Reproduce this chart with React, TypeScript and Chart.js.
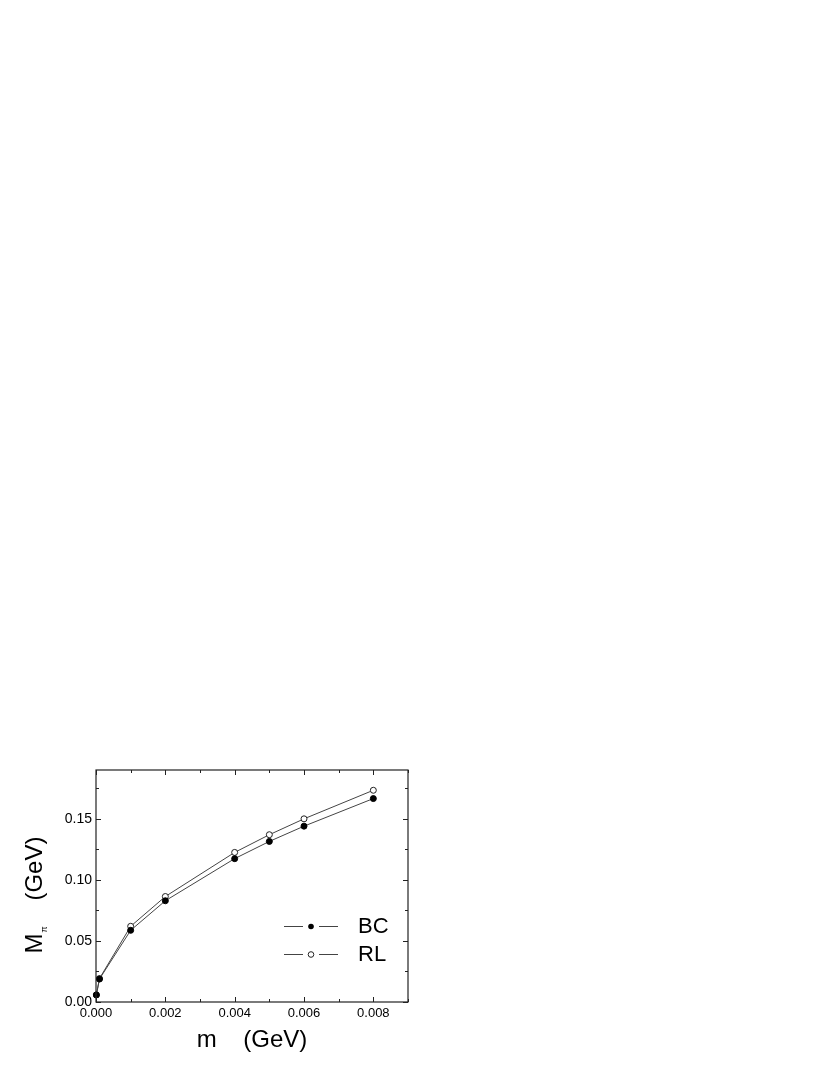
import React, { useEffect, useRef } from "react";
import { Chart, registerables } from "chart.js";

Chart.register(...registerables);

const mValues = [0.00001, 0.0001, 0.001, 0.002, 0.004, 0.005, 0.006, 0.008];
const bcValues = [0.0058, 0.0188, 0.0587, 0.0829, 0.1174, 0.1315, 0.144, 0.1666];
const rlValues = [0.0058, 0.0192, 0.062, 0.0864, 0.1225, 0.137, 0.15, 0.1734];
const seriesNames = ["BC", "RL"];
const xTickStep = 0.002;
const yTickStep = 0.05;
const xMax = 0.009;
const yMax = 0.19;

const FONT = "'Liberation Sans', Arial, sans-serif";

const framePlugin = {
  id: "framePlugin",
  afterDraw(chart: any) {
    const ctx = chart.ctx;
    const { left, right, top, bottom } = chart.chartArea;
    const xs = chart.scales.x;
    const ys = chart.scales.y;
    ctx.save();
    ctx.strokeStyle = "#222";
    ctx.lineWidth = 1.2;
    ctx.strokeRect(left, top, right - left, bottom - top);
    ctx.lineWidth = 1;
    for (let i = 0; i <= 9; i++) {
      const v = i * 0.001;
      const px = Math.round(xs.getPixelForValue(v)) + 0.5;
      const len = i % 2 === 0 ? 5 : 3;
      ctx.beginPath();
      ctx.moveTo(px, bottom);
      ctx.lineTo(px, bottom - len);
      ctx.moveTo(px, top);
      ctx.lineTo(px, top + len);
      ctx.stroke();
    }
    for (let i = 0; i <= 7; i++) {
      const v = i * 0.025;
      const py = Math.round(ys.getPixelForValue(v)) + 0.5;
      const len = i % 2 === 0 ? 5 : 3;
      ctx.beginPath();
      ctx.moveTo(left, py);
      ctx.lineTo(left + len, py);
      ctx.moveTo(right, py);
      ctx.lineTo(right - len, py);
      ctx.stroke();
    }
    // x title
    ctx.fillStyle = "#000";
    ctx.font = `24px ${FONT}`;
    ctx.textAlign = "center";
    ctx.textBaseline = "alphabetic";
    ctx.fillText("m    (GeV)", (left + right) / 2, 1047);
    // y title (rotated)
    ctx.save();
    ctx.translate(42, 895);
    ctx.rotate(-Math.PI / 2);
    ctx.textAlign = "left";
    ctx.font = `24px ${FONT}`;
    const mW = ctx.measureText("M").width;
    ctx.font = `9px ${FONT}`;
    const piW = ctx.measureText("π").width;
    ctx.font = `24px ${FONT}`;
    const gap = ctx.measureText("    ").width;
    const gW = ctx.measureText("(GeV)").width;
    const total = mW + piW + gap + gW;
    const x0 = -total / 2;
    ctx.fillText("M", x0, 0);
    ctx.font = `9px ${FONT}`;
    ctx.fillText("π", x0 + mW + 1, 5);
    ctx.font = `24px ${FONT}`;
    ctx.fillText("(GeV)", x0 + mW + piW + gap, 0);
    ctx.restore();
    // legend
    const rows = [
      { y: 926, filled: true, label: seriesNames[0] },
      { y: 954, filled: false, label: seriesNames[1] },
    ];
    ctx.strokeStyle = "#444";
    for (const r of rows) {
      ctx.lineWidth = 1;
      ctx.beginPath();
      ctx.moveTo(284, r.y + 0.5);
      ctx.lineTo(303, r.y + 0.5);
      ctx.moveTo(319, r.y + 0.5);
      ctx.lineTo(338, r.y + 0.5);
      ctx.stroke();
      ctx.beginPath();
      ctx.arc(311, r.y + 0.5, 2.8, 0, Math.PI * 2);
      if (r.filled) {
        ctx.fillStyle = "#000";
        ctx.fill();
      } else {
        ctx.fillStyle = "#fff";
        ctx.fill();
        ctx.strokeStyle = "#222";
        ctx.stroke();
        ctx.strokeStyle = "#444";
      }
      ctx.fillStyle = "#000";
      ctx.font = `22px ${FONT}`;
      ctx.textAlign = "left";
      ctx.textBaseline = "middle";
      ctx.fillText(r.label, 358, r.y + 1);
    }
    ctx.restore();
  },
};

export default function App() {
  const ref = useRef<HTMLCanvasElement>(null);
  useEffect(() => {
    if (!ref.current) return;
    const chart = new Chart(ref.current, {
      type: "scatter",
      data: {
        datasets: [
          {
            label: seriesNames[0],
            data: mValues.map((m, i) => ({ x: m, y: bcValues[i] })),
            showLine: true,
            borderColor: "#444",
            borderWidth: 1,
            pointRadius: 3,
            pointBackgroundColor: "#000",
            pointBorderColor: "#000",
            pointBorderWidth: 1,
            clip: false as any,
          },
          {
            label: seriesNames[1],
            data: mValues.map((m, i) => ({ x: m, y: rlValues[i] })),
            showLine: true,
            borderColor: "#444",
            borderWidth: 1,
            pointRadius: 3,
            pointBackgroundColor: "#fff",
            pointBorderColor: "#222",
            pointBorderWidth: 1,
            clip: false as any,
          },
        ],
      },
      options: {
        animation: false,
        responsive: false,
        maintainAspectRatio: false,
        events: [],
        layout: { padding: { left: 0, top: 770, right: 422, bottom: 0 } },
        plugins: { legend: { display: false }, tooltip: { enabled: false }, title: { display: false } },
        scales: {
          x: {
            type: "linear",
            min: 0,
            max: xMax,
            grid: { display: false, drawTicks: false },
            border: { display: false },
            ticks: {
              stepSize: xTickStep,
              includeBounds: false,
              padding: 4,
              color: "#000",
              font: { family: FONT, size: 13 },
              maxRotation: 0,
              autoSkip: false,
              callback: (v: any) => Number(v).toFixed(3),
            },
            afterFit: (s: any) => {
              s.height = 73;
            },
          },
          y: {
            type: "linear",
            min: 0,
            max: yMax,
            grid: { display: false, drawTicks: false },
            border: { display: false },
            ticks: {
              stepSize: yTickStep,
              includeBounds: false,
              padding: 4,
              color: "#000",
              font: { family: FONT, size: 14 },
              autoSkip: false,
              callback: (v: any) => Number(v).toFixed(2),
            },
            afterFit: (s: any) => {
              s.width = 96;
            },
          },
        },
      },
      plugins: [framePlugin],
    });
    return () => chart.destroy();
  }, []);
  return (
    <div style={{ position: "absolute", left: 0, top: 0, width: 830, height: 1075, background: "#fff" }}>
      <canvas ref={ref} width={830} height={1075} style={{ display: "block", width: 830, height: 1075 }} />
    </div>
  );
}
